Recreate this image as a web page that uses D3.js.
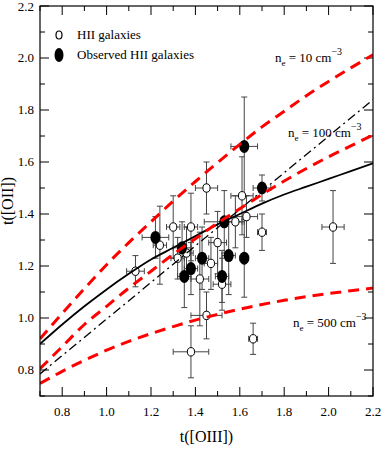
<!DOCTYPE html>
<html>
<head>
<meta charset="utf-8">
<script src="https://cdn.jsdelivr.net/npm/d3@7"></script>
<style>
  body { margin: 0; background: #fff; }
  svg { display: block; font-family: "Liberation Serif", "DejaVu Serif", serif; }
</style>
</head>
<body>
<svg id="chart"></svg>
<script>
// Size
const width = 382;
const height = 452;
const margin = { top: 6, right: 9, bottom: 56, left: 40 };

// HII galaxies (open circles): t([OIII]), t([OII]) and errors
const openX  = [1.13, 1.24, 1.30, 1.38, 1.32, 1.36, 1.42, 1.45, 1.45, 1.38, 1.47, 1.50, 1.52, 1.58, 1.61, 1.63, 1.66, 1.70, 2.02];
const openY  = [1.18, 1.28, 1.35, 1.35, 1.23, 1.25, 1.15, 1.50, 1.01, 0.87, 1.21, 1.29, 1.13, 1.37, 1.47, 1.39, 0.92, 1.33, 1.35];
const openEx = [0.04, 0.03, 0.03, 0.03, 0.03, 0.03, 0.04, 0.05, 0.07, 0.08, 0.03, 0.04, 0.04, 0.03, 0.05, 0.05, 0.02, 0.02, 0.05];
const openEy = [0.06, 0.15, 0.12, 0.13, 0.08, 0.10, 0.18, 0.10, 0.09, 0.10, 0.10, 0.12, 0.10, 0.10, 0.15, 0.08, 0.06, 0.07, 0.14];

// Observed HII galaxies (filled)
const obsX  = [1.22, 1.62, 1.70, 1.53, 1.43, 1.55, 1.62, 1.38, 1.52, 1.35, 1.34];
const obsY  = [1.31, 1.66, 1.50, 1.37, 1.23, 1.24, 1.23, 1.19, 1.16, 1.16, 1.27];
const obsEx = [0.06, 0.06, 0.04, 0.09, 0.03, 0.03, 0.02, 0.03, 0.03, 0.03, 0.04];
const obsEy = [0.08, 0.19, 0.05, 0.12, 0.12, 0.15, 0.15, 0.10, 0.10, 0.12, 0.10];

// Model curves
const curveX  = [0.7, 0.8, 0.9, 1.0, 1.1, 1.2, 1.3, 1.4, 1.5, 1.6, 1.7, 1.8, 1.9, 2.0, 2.1, 2.2];
const fitY    = [0.90, 0.975, 1.045, 1.11, 1.17, 1.225, 1.27, 1.315, 1.36, 1.40, 1.44, 1.475, 1.505, 1.535, 1.565, 1.595];
const ne10Y   = [0.92, 1.018, 1.113, 1.205, 1.29, 1.37, 1.45, 1.525, 1.598, 1.668, 1.735, 1.795, 1.855, 1.91, 1.962, 2.012];
const ne100Y  = [0.805, 0.89, 0.975, 1.045, 1.115, 1.18, 1.245, 1.305, 1.365, 1.42, 1.475, 1.527, 1.575, 1.62, 1.662, 1.704];
const ne500Y  = [0.748, 0.795, 0.837, 0.876, 0.91, 0.94, 0.967, 0.992, 1.014, 1.034, 1.052, 1.068, 1.082, 1.094, 1.105, 1.115];
const lineX   = [0.7, 2.2];
const lineY   = [0.785, 1.84];

// Ticks
const majorTicks = [0.8, 1.0, 1.2, 1.4, 1.6, 1.8, 2.0, 2.2];
const minorTicks = [0.7, 0.9, 1.1, 1.3, 1.5, 1.7, 1.9, 2.1];

const svg = d3.select("#chart")
    .attr("width", width)
    .attr("height", height);

const x = d3.scaleLinear().domain([0.7, 2.2]).range([margin.left, width - margin.right]);
const y = d3.scaleLinear().domain([0.7, 2.2]).range([height - margin.bottom, margin.top]);

const x0 = x.range()[0], x1 = x.range()[1];
const y0 = y.range()[0], y1 = y.range()[1];

// Axes: inward ticks on all four sides
function tickAxes(vals, len) {
    const g = svg.append("g").attr("stroke", "#000").attr("stroke-width", 1);
    vals.forEach(v => {
        g.append("line").attr("x1", x(v)).attr("x2", x(v)).attr("y1", y0).attr("y2", y0 - len);
        g.append("line").attr("x1", x(v)).attr("x2", x(v)).attr("y1", y1).attr("y2", y1 + len);
        g.append("line").attr("y1", y(v)).attr("y2", y(v)).attr("x1", x0).attr("x2", x0 + len);
        g.append("line").attr("y1", y(v)).attr("y2", y(v)).attr("x1", x1).attr("x2", x1 - len);
    });
}
tickAxes(majorTicks, 9);
tickAxes(minorTicks, 5);

// Tick labels
svg.append("g").selectAll("text")
    .data(majorTicks)
    .join("text")
    .attr("x", d => x(d))
    .attr("y", y0 + 20)
    .attr("text-anchor", "middle")
    .attr("font-size", 13)
    .text(d => d.toFixed(1));

svg.append("g").selectAll("text")
    .data(majorTicks)
    .join("text")
    .attr("x", x0 - 6)
    .attr("y", d => Math.max(y(d) + 4, 11))
    .attr("text-anchor", "end")
    .attr("font-size", 13)
    .text(d => d.toFixed(1));

// Axis titles
svg.append("text")
    .attr("x", (x0 + x1) / 2)
    .attr("y", y0 + 46)
    .attr("text-anchor", "middle")
    .attr("font-size", 16)
    .text("t([OIII])");

svg.append("text")
    .attr("transform", `translate(13,${(y0 + y1) / 2}) rotate(-90)`)
    .attr("text-anchor", "middle")
    .attr("font-size", 16)
    .text("t([OII])");

// Error bars
function errorBars(xs, ys, exs, eys) {
    const g = svg.append("g").attr("stroke", "#444").attr("stroke-width", 1);
    xs.forEach((xv, i) => {
        const cx = x(xv), cy = y(ys[i]);
        const xl = x(xv - exs[i]), xr = x(xv + exs[i]);
        const yt = y(ys[i] + eys[i]), yb = y(ys[i] - eys[i]);
        g.append("line").attr("x1", xl).attr("x2", xr).attr("y1", cy).attr("y2", cy);
        g.append("line").attr("x1", cx).attr("x2", cx).attr("y1", yt).attr("y2", yb);
        g.append("line").attr("x1", xl).attr("x2", xl).attr("y1", cy - 3).attr("y2", cy + 3);
        g.append("line").attr("x1", xr).attr("x2", xr).attr("y1", cy - 3).attr("y2", cy + 3);
        g.append("line").attr("x1", cx - 3).attr("x2", cx + 3).attr("y1", yt).attr("y2", yt);
        g.append("line").attr("x1", cx - 3).attr("x2", cx + 3).attr("y1", yb).attr("y2", yb);
    });
}
errorBars(openX, openY, openEx, openEy);
errorBars(obsX, obsY, obsEx, obsEy);

// Markers
svg.append("g").selectAll("ellipse")
    .data(openX.map((v, i) => [v, openY[i]]))
    .join("ellipse")
    .attr("cx", d => x(d[0]))
    .attr("cy", d => y(d[1]))
    .attr("rx", 3.6)
    .attr("ry", 4.2)
    .attr("fill", "#fff")
    .attr("stroke", "#000")
    .attr("stroke-width", 1);

svg.append("g").selectAll("ellipse")
    .data(obsX.map((v, i) => [v, obsY[i]]))
    .join("ellipse")
    .attr("cx", d => x(d[0]))
    .attr("cy", d => y(d[1]))
    .attr("rx", 5)
    .attr("ry", 6.5)
    .attr("fill", "#000");

// Curves
const line = d3.line().x(d => x(d[0])).y(d => y(d[1])).curve(d3.curveMonotoneX);
svg.append("clipPath").attr("id", "clip")
    .append("rect").attr("x", x0).attr("y", y1).attr("width", x1 - x0).attr("height", y0 - y1);

function drawCurve(xs, ys, color, dash, w) {
    svg.append("path")
        .datum(xs.map((v, i) => [v, ys[i]]))
        .attr("clip-path", "url(#clip)")
        .attr("d", line)
        .attr("fill", "none")
        .attr("stroke", color)
        .attr("stroke-width", w)
        .attr("stroke-dasharray", dash);
}
drawCurve(lineX, lineY, "#000", "9,4,2,4", 1.3);
drawCurve(curveX, fitY, "#000", null, 1.8);
drawCurve(curveX, ne10Y, "#ff0000", "11,7", 3);
drawCurve(curveX, ne100Y, "#ff0000", "11,7", 3);
drawCurve(curveX, ne500Y, "#ff0000", "11,7", 3);

// Frame
svg.append("rect")
    .attr("x", x0).attr("y", y1)
    .attr("width", x1 - x0).attr("height", y0 - y1)
    .attr("fill", "none")
    .attr("stroke", "#000")
    .attr("stroke-width", 1.2);

// Curve labels
function neLabel(px, py, val) {
    const t = svg.append("text").attr("x", px).attr("y", py).attr("font-size", 13);
    t.append("tspan").text("n");
    t.append("tspan").attr("font-size", 9).attr("dy", 4).text("e");
    t.append("tspan").attr("dy", -4).text(` = ${val} cm`);
    t.append("tspan").attr("font-size", 10).attr("dy", -7).text("\u22123");
}
neLabel(275, 62, "10");
neLabel(288, 137, "100");
neLabel(293, 327, "500");

// Legend
svg.append("ellipse").attr("cx", 59).attr("cy", 35).attr("rx", 3).attr("ry", 4)
    .attr("fill", "#fff").attr("stroke", "#000").attr("stroke-width", 1.2);
svg.append("text").attr("x", 77).attr("y", 39).attr("font-size", 13).text("HII galaxies");
svg.append("ellipse").attr("cx", 59).attr("cy", 55).attr("rx", 4.5).attr("ry", 7)
    .attr("fill", "#000");
svg.append("text").attr("x", 77).attr("y", 59).attr("font-size", 13).text("Observed HII galaxies");
</script>
</body>
</html>
